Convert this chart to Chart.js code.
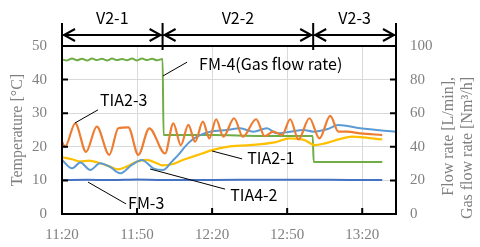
<!DOCTYPE html>
<html>
<head>
<meta charset="utf-8">
<script src="https://cdn.jsdelivr.net/npm/chart.js@4.4.1/dist/chart.umd.min.js"></script>
<style>
  html, body { margin: 0; padding: 0; background: #fff; }
  #wrap { width: 480px; height: 247px; }
</style>
</head>
<body>
<div id="wrap"><canvas id="lineChart" width="480" height="247"></canvas></div>
<script>
// time axis is minutes after 11:20
var timeLabels = ["11:20", "11:50", "12:20", "12:50", "13:20"];
var tickMinutes = [0, 30, 60, 90, 120];
var stageNames = ["V2-1", "V2-2", "V2-3"];
var stageEdges = [0, 40.2, 100.4, 133.5];

// temperatures [°C]
var tia23Time = [0, 1.2, 5.3, 9.6, 13.9, 18.9, 22.5, 26.5, 30.5, 34.9, 41.2, 44.5, 47.5, 50.5, 53.2, 56.3, 58.9, 61.6, 64.5, 68.8, 72.3, 77.6, 81, 84.5, 88, 91.2, 94.5, 98.9, 102.9, 107.2, 110.5, 114, 119.2, 128];
var tia23 = [21.5, 20, 27, 18.5, 26, 17.6, 25.5, 25.8, 17.6, 25.5, 18, 27, 20.5, 26.5, 21.5, 27.5, 22.5, 28.2, 23, 28.5, 23, 28.2, 23.2, 24.5, 23.5, 28.2, 22.2, 28.5, 22.5, 29.2, 24.5, 24.5, 24, 23.5];

var tia21Time = [0, 4, 7.3, 10.6, 15.2, 19.2, 22.5, 25.9, 29.9, 33.9, 37.9, 40, 44, 48, 52, 56, 60, 66, 75, 85, 91, 97, 101, 105, 111, 116, 128];
var tia21 = [16.9, 16.3, 15.6, 15.9, 15.1, 14.1, 13.3, 14.1, 15.6, 16.1, 15.1, 14.5, 14.8, 16, 17, 18, 19, 20, 20.5, 21.3, 22.5, 22, 20.5, 21, 22.3, 23, 22.2];

var tia42Time = [0, 4, 7.3, 11.3, 15.2, 19.2, 23.2, 27.9, 31.9, 36.5, 40.5, 43.9, 46.5, 49.1, 51.9, 55.2, 59.2, 65.9, 71.2, 76.5, 81.9, 85.9, 91.2, 96.5, 100.5, 105.9, 110.5, 119.2, 133.5];
var tia42 = [16.1, 13.6, 15.3, 13.1, 15.1, 14, 12.1, 14.6, 16.1, 13.6, 13.1, 15.6, 17.6, 20, 22, 23.5, 24.5, 25, 25.5, 24.5, 25.5, 24, 24.5, 25, 24.5, 25.2, 26.5, 25.5, 24.5];

// flow rates [L/min], [Nm3/h]
var fm3Time = [0, 10, 20, 30, 40, 60, 80, 100, 115, 128];
var fm3 = [20.2, 20.4, 20.2, 20.5, 20.3, 20.3, 20.4, 20.4, 20.3, 20.3];

var fm4Time = [0, 2, 4, 6, 8, 10, 12, 14, 16, 18, 20, 22, 24, 26, 28, 30, 32, 34, 36, 38, 40.2, 40.6, 60, 80, 100.2, 100.6, 115, 128];
var fm4 = [92, 91.4, 92.6, 91.5, 92.4, 91.3, 92.5, 91.6, 92.4, 91.4, 92.5, 91.6, 92.3, 91.5, 92.5, 91.4, 92.6, 91.6, 92.4, 91.5, 92.3, 47, 47, 46.5, 46.5, 31, 31, 31];

function pts(xs, ys) {
  return xs.map(function (t, i) { return { x: t, y: ys[i] }; });
}

var grey = "#808080";
var serif = "'Liberation Serif', 'DejaVu Serif', serif";
var sans = "'Noto Sans CJK JP', 'Noto Sans', sans-serif";

// callout positions in (minutes, °C)
var callouts = [
  { text: "TIA2-3", at: [15.2, 33.9], from: [14.4, 31], to: [5.2, 27.1] },
  { text: "FM-4(Gas flow rate)", at: [54.8, 44.6], from: [50, 45.2], to: [40.4, 41.1] },
  { text: "TIA2-1", at: [74, 16.7], from: [72, 16.4], to: [60, 18.75] },
  { text: "TIA4-2", at: [67.2, 5.65], from: [65.2, 7.4], to: [35.2, 13.4] },
  { text: "FM-3", at: [26.4, 3.3], from: [25.6, 3], to: [10.4, 9.5] }
];

var decor = {
  id: "decor",
  afterDraw: function (chart) {
    var c = chart.ctx, a = chart.chartArea;
    var x = chart.scales.x, y = chart.scales.y, y2 = chart.scales.y2;
    c.save();

    // frame
    c.strokeStyle = "#000";
    c.lineWidth = 2;
    c.strokeRect(a.left, a.top, a.right - a.left, a.bottom - a.top);

    // inward tick marks
    c.beginPath();
    y.ticks.forEach(function (t) {
      var py = y.getPixelForValue(t.value);
      c.moveTo(a.left, py); c.lineTo(a.left + 6, py);
    });
    y2.ticks.forEach(function (t) {
      var py = y2.getPixelForValue(t.value);
      c.moveTo(a.right, py); c.lineTo(a.right - 6, py);
    });
    tickMinutes.forEach(function (m) {
      var px = x.getPixelForValue(m);
      c.moveTo(px, a.bottom); c.lineTo(px, a.bottom - 6);
    });
    c.stroke();

    // stage arrows
    var ay = a.top - 11;
    c.beginPath();
    stageEdges.forEach(function (m) {
      var px = x.getPixelForValue(m);
      c.moveTo(px, a.top - 23); c.lineTo(px, a.top + 4);
    });
    for (var i = 0; i < stageNames.length; i++) {
      var x1 = x.getPixelForValue(stageEdges[i]) + 2;
      var x2 = x.getPixelForValue(stageEdges[i + 1]) - 2;
      c.moveTo(x1, ay); c.lineTo(x2, ay);
      c.moveTo(x1 + 11, ay - 6); c.lineTo(x1, ay); c.lineTo(x1 + 11, ay + 6);
      c.moveTo(x2 - 11, ay - 6); c.lineTo(x2, ay); c.lineTo(x2 - 11, ay + 6);
    }
    c.stroke();
    c.fillStyle = "#000";
    c.font = "16px " + sans;
    c.textAlign = "center";
    c.textBaseline = "middle";
    for (var j = 0; j < stageNames.length; j++) {
      var mid = (x.getPixelForValue(stageEdges[j]) + x.getPixelForValue(stageEdges[j + 1])) / 2;
      c.fillText(stageNames[j], mid, a.top - 28);
    }

    // callouts
    c.lineWidth = 1;
    c.textAlign = "left";
    callouts.forEach(function (o) {
      c.beginPath();
      c.moveTo(x.getPixelForValue(o.from[0]), y.getPixelForValue(o.from[1]));
      c.lineTo(x.getPixelForValue(o.to[0]), y.getPixelForValue(o.to[1]));
      c.stroke();
      c.fillText(o.text, x.getPixelForValue(o.at[0]), y.getPixelForValue(o.at[1]));
    });

    // axis titles
    c.fillStyle = grey;
    c.font = "16px " + serif;
    c.save();
    c.translate(18, (a.top + a.bottom) / 2);
    c.rotate(-Math.PI / 2);
    c.textAlign = "center";
    c.fillText("Temperature [\u00b0C]", 0, 0);
    c.restore();
    c.save();
    c.translate(449, 77);
    c.rotate(-Math.PI / 2);
    c.textAlign = "right";
    c.fillText("Flow rate [L/min],", 0, 0);
    c.fillText("Gas flow rate [Nm\u00b3/h]", 0, 19);
    c.restore();

    c.restore();
  }
};

var ctx = document.getElementById("lineChart").getContext("2d");
var myChart = new Chart(ctx, {
  type: "line",
  data: {
    datasets: [
      { label: "TIA2-3", data: pts(tia23Time, tia23), borderColor: "#ED7D31", borderWidth: 2.2, yAxisID: "y" },
      { label: "TIA4-2", data: pts(tia42Time, tia42), borderColor: "#5B9BD5", borderWidth: 2, yAxisID: "y" },
      { label: "TIA2-1", data: pts(tia21Time, tia21), borderColor: "#FFC000", borderWidth: 2.2, yAxisID: "y" },
      { label: "FM-4", data: pts(fm4Time, fm4), borderColor: "#70AD47", borderWidth: 2, yAxisID: "y2" },
      { label: "FM-3", data: pts(fm3Time, fm3), borderColor: "#4472C4", borderWidth: 2, yAxisID: "y2" },
    ],
  },
  options: {
    responsive: false,
    animation: false,
    devicePixelRatio: 1,
    layout: { padding: { top: 46, left: 0, right: 0, bottom: 0 } },
    elements: {
      point: { radius: 0 },
      line: { cubicInterpolationMode: "monotone", fill: false },
    },
    plugins: {
      legend: { display: false },
      tooltip: { enabled: false },
    },
    scales: {
      x: {
        type: "linear",
        min: 0,
        max: 133.5,
        afterBuildTicks: function (s) {
          s.ticks = tickMinutes.map(function (m) { return { value: m }; });
        },
        afterFit: function (s) { s.height = 33; },
        grid: { color: "#d9d9d9", lineWidth: 1, drawTicks: false },
        border: { display: false },
        ticks: {
          padding: 12,
          color: grey,
          font: { family: serif, size: 15 },
          callback: function (v) { return timeLabels[tickMinutes.indexOf(v)]; },
        },
      },
      y: {
        position: "left",
        min: 0,
        max: 50,
        afterFit: function (s) { s.width = 62; },
        grid: { color: "#d9d9d9", lineWidth: 1, drawTicks: false },
        border: { display: false },
        ticks: { stepSize: 10, padding: 15, color: grey, font: { family: serif, size: 15 } },
      },
      y2: {
        position: "right",
        min: 0,
        max: 100,
        afterFit: function (s) { s.width = 84; },
        grid: { drawOnChartArea: false, drawTicks: false },
        border: { display: false },
        ticks: { stepSize: 20, padding: 14, color: grey, font: { family: serif, size: 15 } },
      },
    },
  },
  plugins: [decor],
});
</script>
</body>
</html>
